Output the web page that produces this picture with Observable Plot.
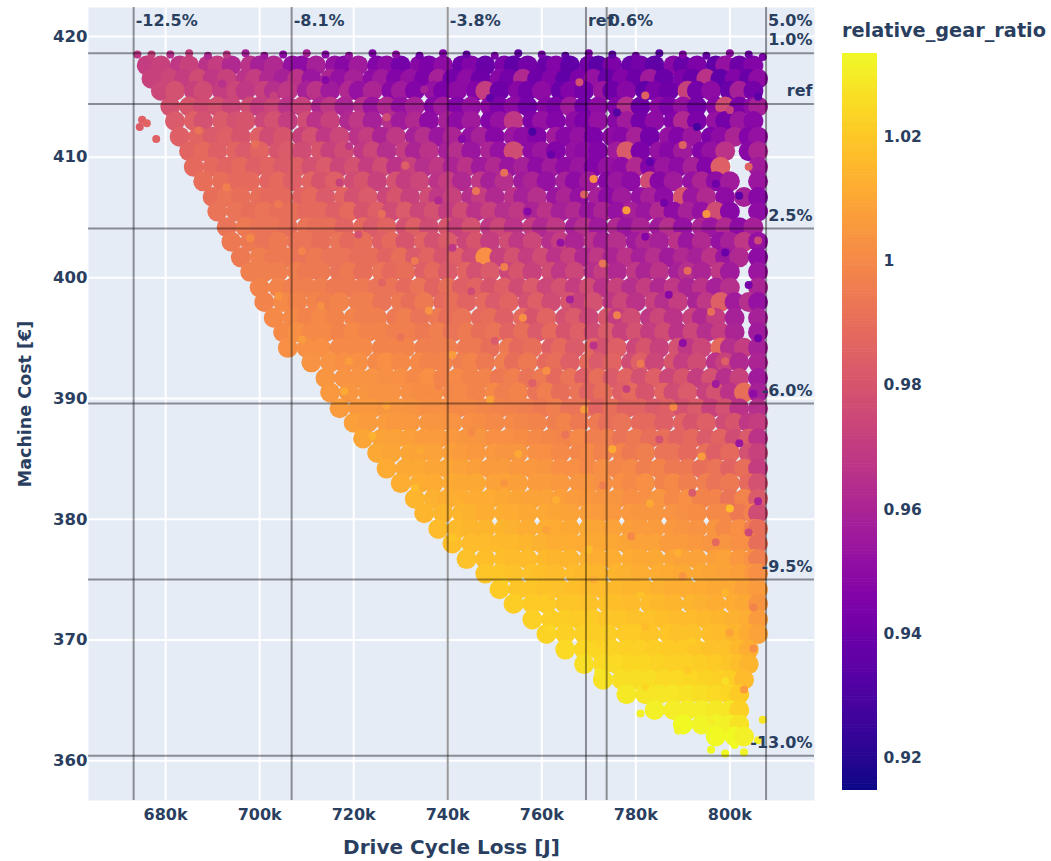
<!DOCTYPE html>
<html><head><meta charset="utf-8">
<script src="https://cdn.jsdelivr.net/npm/d3@7"></script>
<script src="https://cdn.jsdelivr.net/npm/@observablehq/plot@0.6"></script>
<style>
body{margin:0;background:#fff;width:1051px;height:861px;position:relative;overflow:hidden;font-family:"DejaVu Sans",sans-serif;font-weight:bold;color:#2a3f5f}
#main,#bar{position:absolute;top:0}#main{left:0}#bar{left:842px;top:43px}
#title{position:absolute;left:842px;top:19px;font-size:19.3px;white-space:nowrap}
g[aria-label="x-axis label"]{font-size:20px}
g[aria-label="y-axis label"]{font-size:17.5px}
</style></head><body>
<div id="main"></div><div id="bar"></div><div id="title">relative_gear_ratio</div>
<script>
const lossTicks=[680,700,720,740,760,780,800];
const costTicks=[360,370,380,390,400,410,420];
const ratioTicks=[0.92,0.94,0.96,0.98,1,1.02];
const ratioDomain=[0.9148,1.0334];
const lossLines=[673.2,706.8,740,769.4,773.8,807.7];
const lossLabels=["-12.5%","-8.1%","-3.8%","ref","0.6%","5.0%"];
const costLines=[418.6,414.4,404.1,389.6,375,360.4];
const costLabels=["1.0%","ref","2.5%","-6.0%","-9.5%","-13.0%"];
const costLevels=[417.6,416.5,415.5,414.2,413,411.7,410.5,409.2,408,406.7,405.5,404.2,403,401.7,400.5,399.2,398,396.7,395.5,394.2,393,391.7,390.5,389.2,388,386.7,385.5,384.2,383,381.7,380.5,379.2,378,376.7,375.5,374.2,373,371.7,370.5,369.2,368,366.7,365.5,364.2,363,362];
// per row: loss (k J), ratio (x1000), loss, ratio ...
const rowPoints=[
[676,970,679,972,683,968,685,972,689,966,691,970,694,962,698,966,700,958,703,962,707,952,709,950,712,958,716,952,718,948,721,956,725,946,727,950,730,942,734,948,736,944,739,950,743,940,745,946,748,938,752,944,754,936,757,942,761,938,763,946,766,936,770,942,772,934,775,944,779,938,781,942,784,936,788,948,790,938,793,944,797,936,799,952,802,940,805,946],
[677,972,681,974,684,970,687,976,690,968,693,972,697,966,699,970,702,962,705,958,708,966,711,954,715,960,717,952,720,958,724,950,726,956,729,946,732,952,735,944,738,958,741,942,744,950,747,940,751,948,753,942,756,962,759,940,762,946,765,936,768,944,771,952,774,938,777,946,780,940,783,956,786,938,790,944,792,938,795,966,798,936,801,946,804,938,806,950],
[679,974,682,978,686,972,688,976,692,970,695,974,697,968,701,972,703,964,706,968,710,958,712,966,715,956,719,962,721,952,724,960,728,948,730,956,733,946,737,952,739,944,742,950,746,946,748,970,751,940,755,948,757,942,760,950,764,938,766,946,769,942,773,954,775,940,778,948,782,936,784,944,787,940,791,972,793,942,796,950,800,938,802,958,805,942],
[681,978,685,980,688,976,691,978,694,974,698,976,700,970,703,974,706,966,709,972,713,962,715,968,718,960,722,964,724,954,727,962,730,952,733,958,737,948,739,956,742,946,745,952,749,950,751,944,754,950,757,942,761,948,763,944,766,956,769,942,772,950,776,946,778,964,781,940,785,950,787,944,790,952,793,942,797,948,799,976,802,944,805,950,806,958],
[682,982,686,984,688,978,692,982,695,978,697,980,701,974,703,978,706,970,710,976,712,966,715,972,719,962,721,968,724,958,728,964,730,956,733,962,736,950,740,958,742,950,745,956,749,946,751,952,754,968,758,944,760,952,763,946,767,950,769,944,772,952,776,948,778,956,781,942,784,950,788,946,790,962,793,944,797,952,799,942,802,954,805,948],
[683,984,687,986,690,982,693,984,696,980,700,984,702,976,705,980,709,972,711,978,714,968,717,974,721,966,723,970,726,960,729,968,733,958,735,964,738,954,741,960,745,952,747,958,750,948,754,954,756,950,759,946,763,956,765,948,768,952,771,944,775,950,777,948,780,958,783,942,787,952,789,946,792,954,796,944,798,950,801,960,804,946,806,952],
[685,986,688,988,691,984,695,986,697,982,700,986,704,980,706,982,709,976,713,980,715,972,718,976,722,968,724,974,727,964,731,970,733,960,736,966,740,958,742,964,745,954,749,960,751,952,754,976,758,950,760,954,763,946,767,952,769,950,772,946,776,956,778,982,781,944,785,952,787,948,790,956,794,946,796,952,799,966,804,948,806,960],
[686,988,690,988,693,986,696,988,699,984,702,986,705,982,708,984,711,978,714,982,717,974,720,978,723,970,726,976,729,966,732,972,735,964,738,968,741,960,744,966,747,956,750,962,753,954,756,958,759,950,762,956,765,950,768,954,771,946,774,952,777,950,780,962,783,946,786,954,789,950,792,958,795,946,798,984,806,956],
[688,990,692,990,695,988,698,988,702,986,704,988,707,984,711,986,713,980,716,984,720,976,722,980,725,972,729,978,731,970,734,974,738,966,740,970,743,962,747,968,749,958,752,964,756,956,758,960,761,952,765,958,767,950,770,956,774,948,776,954,779,950,783,976,785,948,788,956,792,952,794,960,797,950,800,956,806,954],
[690,990,693,992,696,990,700,990,702,988,705,988,709,986,711,988,714,982,718,986,720,978,723,982,727,974,729,980,732,972,736,976,738,968,741,972,745,964,747,970,750,962,754,966,756,958,759,964,763,954,765,960,768,952,772,958,774,950,777,956,781,952,783,958,786,950,790,980,792,954,795,962,799,950,803,958,806,948],
[691,992,695,992,698,990,701,992,704,990,707,990,710,988,713,988,716,984,719,988,722,980,725,984,728,976,731,982,734,974,737,978,740,970,743,976,746,966,749,972,752,964,755,968,758,960,761,966,764,958,767,962,770,954,773,960,776,952,779,958,782,954,785,962,788,950,791,958,794,952,797,976,800,948,806,950],
[693,992,697,994,700,992,703,992,706,990,710,992,712,990,715,990,718,986,722,988,724,982,727,986,731,978,733,984,736,976,740,980,742,972,745,978,749,968,751,974,754,966,758,970,760,962,763,968,767,958,769,964,772,956,776,962,778,954,781,960,785,956,787,964,790,952,794,960,796,954,799,962,802,950,805,958],
[694,994,698,994,701,992,704,994,708,992,710,992,713,990,717,992,719,988,722,990,726,984,728,988,731,980,735,986,737,978,740,982,744,974,746,980,749,970,753,976,755,968,758,974,762,964,764,970,767,960,771,966,773,958,776,964,780,956,782,962,785,958,789,966,791,954,794,962,798,952,800,958,803,968,806,952],
[696,994,700,996,703,994,706,994,709,992,712,994,715,992,718,992,721,990,724,990,727,986,730,990,733,982,736,986,739,980,742,984,745,976,748,1002,751,972,754,978,757,970,760,976,763,966,766,972,769,962,772,968,775,960,778,966,781,958,784,964,787,956,790,962,793,958,796,966,799,954,802,962,806,950],
[698,996,701,996,704,996,708,996,710,994,713,994,717,992,719,994,722,990,726,992,728,988,731,990,735,984,737,988,740,982,744,986,746,978,749,982,753,974,755,980,758,972,762,976,764,968,767,974,771,964,773,970,776,962,780,968,782,960,785,966,789,958,791,964,794,960,798,968,800,956,806,954],
[700,998,704,998,707,996,710,996,713,996,716,994,719,994,722,994,725,992,728,992,731,988,734,992,737,986,740,990,743,984,746,986,749,980,752,984,755,976,758,982,761,974,764,978,767,970,770,976,773,966,776,972,779,964,782,970,785,962,788,968,791,960,794,966,797,958,800,964,806,960],
[701,998,705,1000,708,998,712,998,714,996,717,998,721,996,723,996,726,992,730,994,732,990,735,994,739,988,741,990,744,986,748,988,750,982,753,986,757,978,759,984,762,976,766,980,768,972,771,978,775,968,777,974,780,966,784,972,786,964,789,970,793,960,795,968,798,984,801,956,804,964,806,952],
[703,1000,707,1000,710,998,713,1000,716,998,720,998,722,996,725,996,729,994,731,996,734,992,738,994,740,990,743,992,747,988,749,990,752,984,756,988,758,980,761,986,765,978,767,982,770,974,774,980,776,970,779,976,783,968,785,974,788,966,792,972,794,962,797,970,801,958,806,958],
[705,1000,708,1002,711,1000,714,1000,717,998,720,1000,723,998,726,998,729,996,732,996,735,994,738,996,741,992,744,994,747,990,750,992,753,986,756,990,759,982,762,988,765,980,768,984,771,976,774,982,777,972,780,978,783,970,786,976,789,966,792,974,795,964,798,970,801,960,806,956],
[706,1002,710,1002,713,1002,717,1000,719,1000,722,1000,726,998,728,998,731,998,735,996,737,996,740,996,744,994,746,994,749,990,753,994,755,988,758,990,762,984,764,988,767,982,771,986,773,978,776,984,780,974,782,980,785,972,789,978,791,968,794,974,798,988,800,964,803,970,806,958],
[711,1003,715,1003,718,1002,721,1002,725,1000,727,1002,730,1000,734,1000,736,998,739,998,743,996,745,998,748,994,752,996,754,990,757,994,761,988,763,990,766,984,770,988,772,982,775,986,779,976,781,984,784,974,788,980,790,970,793,976,797,966,799,972,802,962,806,960],
[714,1004,718,1003,721,1003,724,1003,727,1002,730,1002,733,1000,736,1002,739,998,742,1000,745,998,748,998,751,994,754,996,757,992,760,994,763,988,766,992,769,984,772,990,775,982,778,986,781,978,784,984,787,974,790,980,793,970,796,978,799,964,802,972,806,956],
[715,1005,719,1004,723,1004,725,1003,728,1003,732,1002,734,1001,737,1001,741,999,743,1000,746,998,750,1000,752,996,755,998,759,992,761,996,764,990,768,992,770,986,773,990,777,984,779,988,782,980,786,986,788,976,791,982,795,972,797,978,800,966,803,990,806,958],
[717,1006,721,1005,724,1005,727,1004,730,1004,733,1003,736,1002,739,1002,742,1000,745,1000,748,999,751,998,754,997,757,996,760,994,763,996,766,992,769,992,772,986,775,990,778,986,781,986,784,982,787,984,790,978,793,982,796,972,799,978,802,966,806,964],
[720,1007,723,1006,727,1006,729,1005,732,1005,736,1004,738,1004,741,1003,745,1002,747,1001,750,1000,754,1000,756,999,759,998,763,996,765,998,768,994,772,994,774,990,777,992,781,988,783,988,786,984,790,986,792,980,795,984,799,976,801,980,804,968,806,970],
[722,1009,726,1008,729,1008,732,1007,735,1006,738,1006,741,1005,744,1004,747,1004,750,1002,753,1002,756,1001,759,1000,762,999,765,998,768,1000,771,996,774,996,777,992,780,994,783,990,786,990,789,986,792,988,795,982,798,986,801,976,804,982,806,966],
[725,1010,728,1009,732,1009,734,1008,737,1008,741,1007,743,1006,746,1005,750,1005,752,1004,755,1004,759,1002,761,1002,764,1000,768,999,770,1000,773,997,777,998,779,994,782,996,786,992,788,992,791,988,795,990,797,984,800,988,804,978,806,972],
[727,1011,731,1010,734,1010,737,1009,740,1009,743,1008,746,1007,749,1006,752,1006,755,1005,758,1005,761,1004,764,1002,767,1002,770,1000,773,1002,776,999,779,1000,782,996,785,998,788,994,791,994,794,990,797,992,800,986,803,990,806,970],
[730,1012,734,1012,737,1011,741,1011,743,1010,746,1010,750,1008,752,1008,755,1007,759,1006,761,1006,764,1005,768,1004,770,1004,773,1002,777,1002,779,1000,782,1002,786,998,788,1000,791,996,795,996,797,992,800,994,804,988,806,978],
[733,1014,737,1013,740,1012,743,1012,746,1011,749,1011,752,1010,755,1009,758,1008,761,1008,764,1007,767,1006,770,1005,773,1004,776,1004,779,1002,782,1002,785,1004,788,1000,791,1002,794,998,797,998,800,992,803,998,806,982],
[735,1014,739,1014,743,1014,745,1013,748,1012,752,1012,754,1011,757,1010,761,1010,763,1009,766,1008,770,1007,772,1006,775,1005,779,1005,781,1004,784,1004,788,1003,790,1002,793,1001,797,1000,799,1000,802,994,805,997,806,976],
[738,1016,742,1015,745,1014,748,1014,752,1014,754,1013,757,1012,761,1012,763,1011,766,1010,770,1010,772,1009,775,1008,779,1007,781,1006,784,1006,788,1005,790,1004,793,1003,797,1004,799,1000,802,1002,805,996,806,990],
[741,1017,745,1016,748,1016,751,1015,754,1015,757,1014,760,1013,763,1012,766,1012,769,1011,772,1010,775,1010,778,1009,781,1008,784,1008,787,1006,790,1006,793,1005,796,1004,799,1004,802,1002,805,1002,806,990],
[744,1018,748,1017,752,1017,754,1016,757,1016,761,1015,763,1014,766,1014,770,1013,772,1012,775,1012,779,1011,781,1010,784,1010,788,1009,790,1008,793,1008,797,1007,799,1008,802,1005,805,1003,806,996],
[748,1019,751,1019,754,1018,758,1018,760,1017,763,1016,767,1016,769,1015,772,1014,776,1014,778,1013,781,1012,785,1012,787,1011,790,1010,794,1010,796,1009,799,1008,802,1007,805,1005,806,1002],
[751,1020,755,1019,758,1019,761,1018,764,1018,767,1017,770,1016,773,1016,776,1015,779,1014,782,1014,785,1013,788,1012,791,1012,794,1011,797,1010,800,1010,803,1008,806,1006],
[754,1021,758,1020,761,1020,765,1019,767,1019,770,1018,774,1018,776,1017,779,1016,783,1016,785,1015,788,1014,792,1014,794,1013,797,1012,801,1012,803,1010,806,1004],
[758,1022,762,1021,765,1021,768,1020,771,1020,774,1019,777,1019,780,1018,783,1018,786,1017,789,1016,792,1016,795,1015,798,1014,801,1013,804,1012,806,1006],
[761,1023,765,1022,769,1022,771,1021,774,1021,778,1020,780,1020,783,1019,787,1019,789,1018,792,1018,796,1017,798,1016,801,1014,804,1011,806,1008],
[765,1025,769,1024,772,1024,775,1023,778,1022,781,1022,784,1021,787,1020,790,1020,793,1019,796,1018,799,1018,802,1015,804,1012],
[769,1026,773,1025,776,1025,779,1024,782,1024,785,1023,788,1022,791,1022,794,1021,797,1020,800,1019,802,1017,804,1014],
[773,1027,777,1026,780,1026,783,1026,786,1025,789,1025,792,1024,795,1023,798,1022,800,1021,803,1016],
[778,1029,782,1028,785,1028,788,1028,791,1027,794,1026,797,1025,800,1024,802,1020],
[784,1031,788,1030,791,1030,794,1030,797,1029,800,1028,802,1022],
[790,1033,794,1032,797,1032,800,1031,802,1027],
[797,1033,801,1033,803,1031]
];
// finer dots read from the cloud: loss, cost, ratio (x1000)
const fineDots=[
674,418.5,968,677,418.5,972,681,418.5,965,685,418.6,970,689,418.4,962,693,418.5,968,697,418.6,958,701,418.4,955,705,418.5,950,710,418.6,958,714,418.5,948,719,418.4,952,724,418.6,944,729,418.5,950,734,418.4,942,739,418.6,946,744,418.5,938,750,418.4,944,755,418.6,936,760,418.5,942,765,418.4,936,770,418.6,944,775,418.5,935,780,418.4,942,785,418.6,934,790,418.5,946,795,418.4,938,800,418.6,950,804,418.5,940,807,418.3,944,
675,413.1,984,676,412.8,986,674.5,412.5,983,678,411.5,985,686,409.7,988,
692,416.1,965,703,415.1,972,714,416.4,948,727,413.3,976,735,415.6,958,749,414.9,935,758,412.1,930,768,416.2,978,776,413.7,932,782,415.1,985,793,412.5,928,800,413.9,972,806,415,934,
687,412.2,992,699,411.1,990,708,409.5,984,719,410.9,968,731,409.3,984,743,411.5,948,752,408.7,990,762,410.2,938,771,408.2,1002,783,409.6,936,790,411,985,797,407.8,940,804,409.2,985,
693,407.5,996,704,406.1,994,717,407.9,972,726,405.3,990,738,406.4,962,746,407.2,992,757,405.5,948,769,406.9,985,778,405.6,1006,786,406.2,942,795,405.3,1004,802,406.8,934,
698,403.3,1000,709,402.2,998,721,403.6,978,733,401.4,994,741,402.5,968,752,400.9,996,764,402.9,952,773,401.2,992,782,403.4,946,791,400.6,988,799,402.1,938,806,403.1,975,
704,398.5,1004,713,397.7,1002,726,399.6,986,736,397.3,1003,745,398.9,976,756,396.7,1002,766,398.2,958,776,396.9,996,787,398.6,948,796,397.2,990,804,399.4,942,
709,394.9,1006,719,393.1,1006,730,395.1,992,741,393.6,1006,750,394.8,982,761,392.3,1002,771,394.4,966,781,392.9,994,790,394.6,950,799,393.1,984,806,395,940,
718,390.6,1010,727,389.4,1008,738,391,998,749,389.9,1008,758,391.3,984,769,389.1,1006,778,390.8,972,788,389.3,1000,797,391.2,956,805,390.4,950,
724,386.9,1013,734,385.7,1010,745,387.2,1000,755,385.4,1010,765,387,992,775,385.8,1010,785,386.6,978,794,385.2,1006,802,386.3,954,
733,382.6,1016,742,381.4,1013,752,383,1004,763,381.6,1012,773,382.8,996,783,381.3,1010,792,382.2,982,800,380.9,1016,806,381.5,960,
741,378.4,1019,750,377.6,1016,761,379.1,1008,770,377.5,1016,779,378.6,1000,789,377.2,1012,797,378.1,988,804,378.9,975,
752,374.8,1021,762,373.6,1019,771,375,1012,781,373.7,1018,790,375.3,1004,799,373.9,1014,805,372.7,998,
762,370.9,1024,772,369.7,1022,782,371.1,1016,792,369.9,1020,800,370.6,1008,805,369.3,1002,
772,367.3,1028,782,366.1,1024,791,367.5,1020,799,366.6,1026,803,365.9,1006,807,363.4,1028,
781,363.9,1031,789,362.5,1032,796,363.2,1030,801,361.3,1033,796,360.9,1033,803,360.7,1032,806,361.7,1031,799,360.6,1033
];
const points=rowPoints.flatMap((row,i)=>d3.range(0,row.length,2).map(j=>({cost:costLevels[i],loss:row[j],ratio:row[j+1]/1000})));
const fine=d3.range(0,fineDots.length,3).map(j=>({loss:fineDots[j],cost:fineDots[j+1],ratio:fineDots[j+2]/1000}));
const ink="#2a3f5f";
const fontStyle={fontFamily:"'DejaVu Sans',sans-serif",fontWeight:"bold",fontSize:"16px",color:ink,background:"transparent",overflow:"visible"};
const fmtK=d=>d+"k";

document.getElementById("main").append(Plot.plot({
  width:1051,height:861,marginLeft:88,marginRight:237,marginTop:7,marginBottom:61,
  style:fontStyle,
  x:{domain:[663.6,818]},
  y:{domain:[356.7,422.4]},
  color:{type:"linear",scheme:"plasma",domain:ratioDomain},
  marks:[
    Plot.frame({fill:"#e5ecf6",stroke:"none"}),
    Plot.gridX(lossTicks,{stroke:"#fff",strokeOpacity:1,strokeWidth:2}),
    Plot.gridY(costTicks,{stroke:"#fff",strokeOpacity:1,strokeWidth:2}),
    Plot.dot(points,{x:"loss",y:"cost",fill:"ratio",r:10,stroke:"none"}),
    Plot.dot(fine,{x:"loss",y:"cost",fill:"ratio",r:4,stroke:"none"}),
    Plot.ruleX(lossLines,{stroke:"#000",strokeOpacity:0.4,strokeWidth:2}),
    Plot.ruleY(costLines,{stroke:"#000",strokeOpacity:0.4,strokeWidth:2}),
    Plot.axisX(lossTicks,{tickSize:0,tickPadding:8,tickFormat:fmtK,fontSize:16,fill:ink,label:"Drive Cycle Loss [J]",labelAnchor:"center",labelArrow:"none",labelOffset:53}),
    Plot.axisY(costTicks,{tickSize:0,tickPadding:1,fontSize:16.5,fill:ink,label:"Machine Cost [€]",labelAnchor:"center",labelArrow:"none",labelOffset:70}),
    Plot.text(lossLabels,{x:(d,i)=>lossLines[i],text:d=>d,frameAnchor:"top",dy:7,dx:2,textAnchor:"start",fontSize:16,fill:ink}),
    Plot.text(costLabels,{y:(d,i)=>costLines[i],text:d=>d,frameAnchor:"right",dy:-13,dx:-2,textAnchor:"end",fontSize:16,fill:ink})
  ]
}));

const barValues=d3.range(ratioDomain[0],ratioDomain[1],0.0005);
document.getElementById("bar").append(Plot.plot({
  width:120,height:757,marginLeft:0,marginRight:85,marginTop:10,marginBottom:10,
  style:fontStyle,
  x:{domain:[0,1],axis:null},
  y:{domain:ratioDomain},
  color:{type:"linear",scheme:"plasma",domain:ratioDomain},
  marks:[
    Plot.rect(barValues,{x1:0,x2:1,y1:d=>d,y2:d=>Math.min(d+0.0006,ratioDomain[1]),fill:d=>d}),
    Plot.axisY(ratioTicks,{anchor:"right",tickSize:0,tickPadding:6,fontSize:15.5,fill:ink,label:null,tickFormat:d=>d===1?"1":d3.format(".2f")(d)})
  ]
}));
</script></body></html>
